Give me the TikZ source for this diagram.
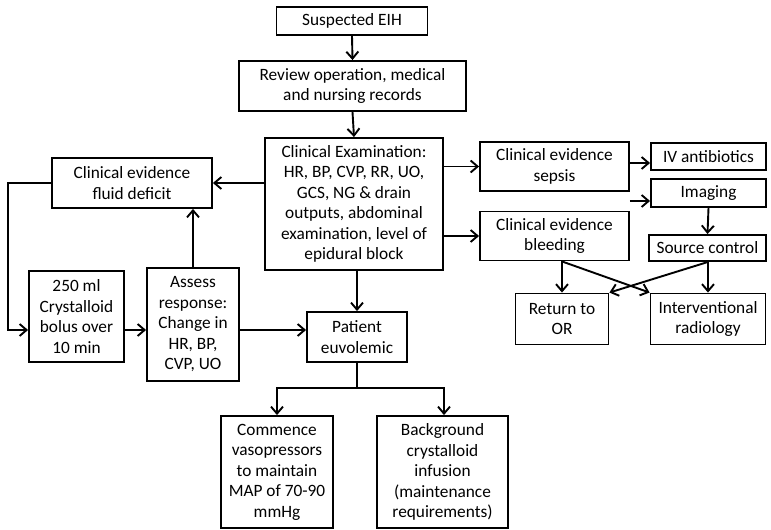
\documentclass[tikz,border=0pt]{standalone}
\usepackage{fontspec}
\setmainfont{Carlito}
\usetikzlibrary{arrows.meta}
\begin{document}
\begin{tikzpicture}[x=1pt,y=-1pt,
  box/.style={draw, line width=1.9pt, align=center, inner sep=1pt,
    font=\fontsize{17.3}{20.5}\selectfont},
  arr/.style={line width=1.9pt, -{Straight Barb[length=7pt,width=12pt,line width=1.9pt]}},
  ln/.style={line width=1.9pt}]
\useasboundingbox (0,0) rectangle (771,530);

% main column
\node[box, minimum width=151, minimum height=28] (eih) at (352,21) {Suspected EIH};
\node[box, minimum width=227, minimum height=50] (review) at (352.5,86) {Review operation, medical\\and nursing records};
\node[box, minimum width=178, minimum height=132] (exam) at (354,204)
  {Clinical Examination:\\HR, BP, CVP, RR, UO,\\GCS, NG \& drain\\outputs, abdominal\\examination, level of\\epidural block};

% fluid loop
\node[box, minimum width=160, minimum height=50] (fluid) at (132,183) {Clinical evidence\\fluid deficit};
\node[box, minimum width=95, minimum height=91] (bolus) at (76.5,316.5) {250 ml\\Crystalloid\\bolus over\\10 min};
\node[box, minimum width=92, minimum height=113] (assess) at (193,324.5) {Assess\\response:\\Change in\\HR, BP,\\CVP, UO};
\node[box, minimum width=100, minimum height=50] (patient) at (357,337) {Patient\\euvolemic};
\node[box, minimum width=112, minimum height=112] (commence) at (277,472) {Commence\\vasopressors\\to maintain\\MAP of 70-90\\mmHg};
\node[box, minimum width=131, minimum height=112] (background) at (442.5,472) {Background\\crystalloid\\infusion\\(maintenance\\requirements)};

% right branch
\node[box, minimum width=149, minimum height=49] (sepsis) at (554.5,166.5) {Clinical evidence\\sepsis};
\node[box, minimum width=149, minimum height=49] (bleeding) at (554.5,236) {Clinical evidence\\bleeding};
\node[box, minimum width=115, minimum height=27] (iv) at (708.5,156.5) {IV antibiotics};
\node[box, minimum width=115, minimum height=28] (imaging) at (708.5,193) {Imaging};
\node[box, minimum width=117, minimum height=26] (source) at (707.5,248) {Source control};
\node[box, minimum width=93, minimum height=51] (returnor) at (562,319) {Return to\\OR};
\node[box, minimum width=115, minimum height=51] (ir) at (708,319) {Interventional\\radiology};

% connectors
\draw[arr] (eih.south) -- (review.north);
\draw[arr] (review.south) -- (exam.north);
\draw[arr] (exam.west |- fluid.east) -- (fluid.east);
\coordinate (lr) at (8,330);
\draw[arr] (fluid.west) -| (lr) -- (bolus.west |- lr);
\draw[arr] (bolus.east |- lr) -- (assess.west |- lr);
\draw[arr] (assess.east |- lr) -- (patient.west |- lr);
\draw[arr] (assess.north) -- (assess.north |- fluid.south);
\draw[arr] (exam.south -| patient.north) -- (patient.north);
\draw[arr] (patient.south) -- ++(0,25) -| (commence.north);
\draw[arr] (patient.south) -- ++(0,25) -| ([xshift=1.5pt]background.north);

\draw[arr] (exam.east |- sepsis.west) -- (sepsis.west);
\draw[arr] (exam.east |- bleeding.west) -- (bleeding.west);
\draw[arr] ([yshift=-6.5pt]sepsis.east |- iv.west) -- ([yshift=-6.5pt]iv.west);
\draw[arr] ([yshift=-8pt]sepsis.east |- imaging.west) -- ([yshift=-8pt]imaging.west);
\draw[arr] (imaging.south) -- (source.north);
\coordinate (bs) at (returnor.north |- bleeding.south);
\coordinate (ss) at (ir.north |- source.south);
\draw[arr] (bs) -- (returnor.north);
\draw[arr] (bs) -- (ir.north west);
\draw[arr] (ss) -- (ir.north);
\draw[arr] (ss) -- (returnor.north east);
\end{tikzpicture}
\end{document}
